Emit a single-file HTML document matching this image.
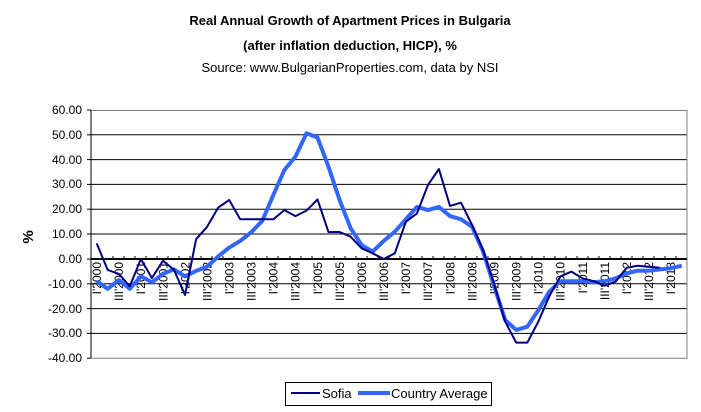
<!DOCTYPE html>
<html><head><meta charset="utf-8"><style>
body{margin:0;background:#fff;}
svg{display:block;font-family:"Liberation Sans",Arial,sans-serif;}
</style></head><body>
<svg width="701" height="412" viewBox="0 0 701 412" xmlns="http://www.w3.org/2000/svg">
<text x="350" y="25" text-anchor="middle" font-size="13" font-weight="bold">Real Annual Growth of Apartment Prices in Bulgaria</text>
<text x="350" y="50" text-anchor="middle" font-size="13" font-weight="bold">(after inflation deduction, HICP), %</text>
<text x="350" y="72" text-anchor="middle" font-size="13">Source: www.BulgarianProperties.com, data by NSI</text>
<text transform="translate(33,237) rotate(-90)" text-anchor="middle" font-size="15" font-weight="bold">%</text>
<g stroke="#000" stroke-width="1">
<line x1="91" y1="134.8" x2="687" y2="134.8"/><line x1="91" y1="159.6" x2="687" y2="159.6"/>
<line x1="91" y1="184.4" x2="687" y2="184.4"/><line x1="91" y1="209.2" x2="687" y2="209.2"/>
<line x1="91" y1="234" x2="687" y2="234"/><line x1="91" y1="283.8" x2="687" y2="283.8"/>
<line x1="91" y1="308.6" x2="687" y2="308.6"/><line x1="91" y1="333.4" x2="687" y2="333.4"/>
</g>
<path d="M91 110.5H687V358.2H91" fill="none" stroke="#808080" stroke-width="1"/>
<g stroke="#000"><line x1="91" y1="110" x2="91" y2="358"/>
<line x1="87" y1="110" x2="91" y2="110"/><line x1="87" y1="134.8" x2="91" y2="134.8"/><line x1="87" y1="159.6" x2="91" y2="159.6"/><line x1="87" y1="184.4" x2="91" y2="184.4"/><line x1="87" y1="209.2" x2="91" y2="209.2"/><line x1="87" y1="234" x2="91" y2="234"/><line x1="87" y1="259" x2="91" y2="259"/><line x1="87" y1="283.8" x2="91" y2="283.8"/><line x1="87" y1="308.6" x2="91" y2="308.6"/><line x1="87" y1="333.4" x2="91" y2="333.4"/><line x1="87" y1="358.2" x2="91" y2="358.2"/>
<line x1="91" y1="259" x2="687" y2="259" stroke-width="2"/>
<path d="M102 259v-3M113 259v-3M124 259v-3M135 259v-3M146 259v-3M157 259v-3M168 259v-3M179 259v-3M190 259v-3M201 259v-3M212 259v-3M223 259v-3M234 259v-3M245 259v-3M256 259v-3M267 259v-3M278 259v-3M290 259v-3M301 259v-3M312 259v-3M323 259v-3M334 259v-3M345 259v-3M356 259v-3M367 259v-3M378 259v-3M389 259v-3M400 259v-3M411 259v-3M422 259v-3M433 259v-3M444 259v-3M455 259v-3M466 259v-3M477 259v-3M488 259v-3M499 259v-3M510 259v-3M521 259v-3M532 259v-3M544 259v-3M555 259v-3M566 259v-3M577 259v-3M588 259v-3M599 259v-3M610 259v-3M621 259v-3M632 259v-3M643 259v-3M654 259v-3M665 259v-3M676 259v-3"/>
</g>
<g font-size="12" text-anchor="end">
<text x="82" y="114">60.00</text><text x="82" y="139">50.00</text><text x="82" y="164">40.00</text><text x="82" y="188">30.00</text><text x="82" y="213">20.00</text><text x="82" y="238">10.00</text><text x="82" y="263">0.00</text><text x="82" y="288">-10.00</text><text x="82" y="313">-20.00</text><text x="82" y="337">-30.00</text><text x="82" y="362">-40.00</text>
</g>
<g font-size="12" text-anchor="end">
<text transform="translate(101,262) rotate(-90)">I'2000</text>
<text transform="translate(123.1,262) rotate(-90)">III'2000</text>
<text transform="translate(145.2,262) rotate(-90)">I'2001</text>
<text transform="translate(167.3,262) rotate(-90)">III'2001</text>
<text transform="translate(189.3,262) rotate(-90)">I'2002</text>
<text transform="translate(211.4,262) rotate(-90)">III'2002</text>
<text transform="translate(233.5,262) rotate(-90)">I'2003</text>
<text transform="translate(255.6,262) rotate(-90)">III'2003</text>
<text transform="translate(277.6,262) rotate(-90)">I'2004</text>
<text transform="translate(299.7,262) rotate(-90)">III'2004</text>
<text transform="translate(321.8,262) rotate(-90)">I'2005</text>
<text transform="translate(343.9,262) rotate(-90)">III'2005</text>
<text transform="translate(366,262) rotate(-90)">I'2006</text>
<text transform="translate(388,262) rotate(-90)">III'2006</text>
<text transform="translate(410.1,262) rotate(-90)">I'2007</text>
<text transform="translate(432.2,262) rotate(-90)">III'2007</text>
<text transform="translate(454.3,262) rotate(-90)">I'2008</text>
<text transform="translate(476.4,262) rotate(-90)">III'2008</text>
<text transform="translate(498.4,262) rotate(-90)">I'2009</text>
<text transform="translate(520.5,262) rotate(-90)">III'2009</text>
<text transform="translate(542.6,262) rotate(-90)">I'2010</text>
<text transform="translate(564.7,262) rotate(-90)">III'2010</text>
<text transform="translate(586.8,262) rotate(-90)">I'2011</text>
<text transform="translate(608.8,262) rotate(-90)">III'2011</text>
<text transform="translate(630.9,262) rotate(-90)">I'2012</text>
<text transform="translate(653,262) rotate(-90)">III'2012</text>
<text transform="translate(675.1,262) rotate(-90)">I'2013</text>
</g>
<polyline fill="none" stroke="#3366FF" stroke-width="4" stroke-linejoin="round" points="96.7,281.1 107.7,288.8 118.8,280.1 129.8,288.8 140.9,276.4 151.9,282.3 163,273.9 174,269.4 185,276.4 196.1,270.9 207.1,266.7 218.1,256.5 229.2,247.6 240.2,240.9 251.3,232.2 262.3,220.8 273.3,195 284.4,170 295.4,156.6 306.5,133.3 317.5,137.5 328.5,166.7 339.6,200 350.6,228.2 361.7,245.1 372.7,251.6 383.7,240.9 394.8,231.7 405.8,219.3 416.9,206.9 427.9,210.1 438.9,206.9 450,216.1 461,219.3 472.1,226.8 483.1,251.6 494.1,286.3 505.2,320 516.2,329.9 527.3,326.7 538.3,310.1 549.3,291.7 560.4,281.3 571.4,281.3 582.5,281.3 593.5,282.1 604.5,281.3 615.6,278.3 626.6,273.4 637.7,270.7 648.7,270.7 659.7,269.4 670.8,268.2 681.8,265.7"/>
<polyline fill="none" stroke="#000080" stroke-width="2" stroke-linejoin="round" points="96.7,243.4 107.7,269.9 118.8,273.9 129.8,286.3 140.9,259 151.9,278.1 163,260.7 174,269.9 185,295 196.1,239.2 207.1,226.8 218.1,207.7 229.2,200 240.2,219.3 251.3,219.3 262.3,219.3 273.3,219.3 284.4,210.1 295.4,216.1 306.5,210.6 317.5,199.5 328.5,232 339.6,232 350.6,236.7 361.7,248.3 372.7,253.3 383.7,259 394.8,253.3 405.8,221.8 416.9,213.4 427.9,185.1 438.9,169 450,205.9 461,202.7 472.1,225 483.1,250.1 494.1,283.8 505.2,321.7 516.2,342.6 527.3,342.6 538.3,321.7 549.3,296.2 560.4,276.4 571.4,271.6 582.5,278.3 593.5,281.1 604.5,285.8 615.6,281.6 626.6,267.9 637.7,265.7 648.7,266.7 659.7,267.7"/>
<rect x="285.5" y="382.5" width="206" height="23" fill="#fff" stroke="#000"/>
<line x1="291" y1="393" x2="320" y2="393" stroke="#000080" stroke-width="2"/>
<text x="322" y="398" font-size="13">Sofia</text>
<line x1="358" y1="393" x2="390" y2="393" stroke="#3366FF" stroke-width="4"/>
<text x="391" y="398" font-size="13">Country Average</text>
</svg>
</body></html>
